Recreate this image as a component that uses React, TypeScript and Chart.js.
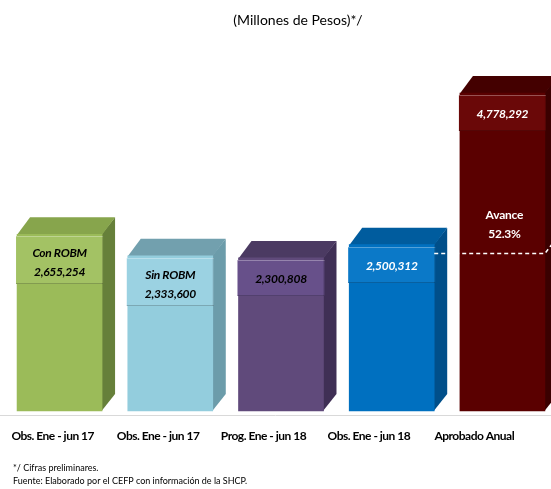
import React, { useEffect, useRef } from "react";
import { Chart, registerables } from "chart.js";

Chart.register(...registerables);

// ---- data ----
const categories = [
  "Obs. Ene - jun 17",
  "Obs. Ene - jun 17",
  "Prog. Ene - jun 18",
  "Obs. Ene - jun 18",
  "Aprobado Anual",
];
const values = [2655254, 2333600, 2300808, 2500312, 4778292];
const barNotes = ["Con ROBM", "Sin ROBM", "", "", ""];
const titleText = "(Millones de Pesos)*/";
const footnotes = [
  "*/ Cifras preliminares.",
  "Fuente: Elaborado por el CEFP con información de la SHCP.",
];
const avanceLabel = "Avance";

// ---- styles ----
const frontColors = ["#9BBB59", "#93CDDD", "#604A7B", "#0070C0", "#5A0000"];
const sideColors = ["#66803A", "#6C9CAA", "#3F2F55", "#004F8A", "#3A0000"];
const topColors = ["#87A54C", "#72A0AE", "#4B3A62", "#005C9E", "#440000"];
const boxColors = ["#A3C264", "#9BD2E2", "#67508A", "#0B79C8", "#6A0808"];
const textColors = ["#000000", "#000000", "#000000", "#FFFFFF", "#FFFFFF"];
const FONT = "Lato, 'Open Sans', sans-serif";
const DX = 13;
const DY = 17;

const bar3d = {
  id: "bar3d",
  beforeDraw(chart: any) {
    chart.ctx.letterSpacing = "-0.5px";
  },
  beforeDatasetsDraw(chart: any) {
    const ctx = chart.ctx;
    ctx.letterSpacing = "0px";
    const meta = chart.getDatasetMeta(0);
    const yScale = chart.scales.y;
    ctx.save();
    const by = Math.round(yScale.bottom) + 0.5;
    ctx.strokeStyle = "#D9D9D9";
    ctx.lineWidth = 1;
    ctx.beginPath();
    ctx.moveTo(0, by);
    ctx.lineTo(chart.width, by);
    ctx.stroke();
    meta.data.forEach((bar: any, i: number) => {
      const { x, y, base, width } = bar.getProps(["x", "y", "base", "width"], true);
      const l = x - width / 2;
      const r = x + width / 2;
      ctx.fillStyle = sideColors[i];
      ctx.beginPath();
      ctx.moveTo(r - 0.5, y);
      ctx.lineTo(r + DX, y - DY);
      ctx.lineTo(r + DX, base - DY);
      ctx.lineTo(r - 0.5, base);
      ctx.closePath();
      ctx.fill();
      ctx.fillStyle = topColors[i];
      ctx.beginPath();
      ctx.moveTo(l, y + 0.5);
      ctx.lineTo(l + DX, y - DY);
      ctx.lineTo(r + DX, y - DY);
      ctx.lineTo(r, y + 0.5);
      ctx.closePath();
      ctx.fill();
    });
    ctx.restore();
  },
  afterDatasetsDraw(chart: any) {
    const ctx = chart.ctx;
    const meta = chart.getDatasetMeta(0);
    const yScale = chart.scales.y;
    ctx.save();
    meta.data.forEach((bar: any, i: number) => {
      const { x, y, width } = bar.getProps(["x", "y", "width"], true);
      const l = x - width / 2;
      const r = x + width / 2;
      const two = barNotes[i] !== "";
      const top = Math.round(y) + 2;
      const h = two ? 48 : 36;
      ctx.fillStyle = boxColors[i];
      ctx.fillRect(l - 1, top, r - l + 2, h);
      ctx.lineWidth = 1;
      ctx.strokeStyle = "rgba(255,255,255,0.3)";
      ctx.beginPath();
      ctx.moveTo(l - 1, top + 0.5);
      ctx.lineTo(r + 1, top + 0.5);
      ctx.stroke();
      ctx.strokeStyle = "rgba(0,0,0,0.2)";
      ctx.beginPath();
      ctx.moveTo(l - 1, top + h - 0.5);
      ctx.lineTo(r + 1, top + h - 0.5);
      ctx.moveTo(r + 0.5, top);
      ctx.lineTo(r + 0.5, top + h);
      ctx.stroke();
      ctx.fillStyle = textColors[i];
      ctx.font = `italic bold 12px ${FONT}`;
      ctx.letterSpacing = "-0.3px";
      ctx.textAlign = "center";
      ctx.textBaseline = "middle";
      const label = values[i].toLocaleString("en-US");
      if (two) {
        ctx.fillText(barNotes[i], x, y + 19);
        ctx.fillText(label, x, y + 38);
      } else {
        ctx.fillText(label, x, y + 21);
      }
    });
    const last = values.length - 1;
    const pct = values[last - 1] / values[last];
    const b4 = meta.data[last - 1].getProps(["x", "width"], true);
    const b5 = meta.data[last].getProps(["x", "width"], true);
    const yd = Math.round(yScale.getPixelForValue(values[last] * pct) + DY / 2) + 0.5;
    const x4r = b4.x + b4.width / 2;
    const x5r = b5.x + b5.width / 2;
    ctx.strokeStyle = "#FFFFFF";
    ctx.lineWidth = 1.5;
    ctx.setLineDash([4, 3]);
    ctx.beginPath();
    ctx.moveTo(x4r, yd);
    ctx.lineTo(x5r, yd);
    ctx.lineTo(x5r + DX, yd - DY);
    ctx.stroke();
    ctx.setLineDash([]);
    ctx.fillStyle = "#FFFFFF";
    ctx.font = `bold 12px ${FONT}`;
    ctx.letterSpacing = "-0.2px";
    ctx.textAlign = "center";
    ctx.textBaseline = "middle";
    ctx.fillText(avanceLabel, b5.x + 2, yd - 38);
    ctx.fillText((pct * 100).toFixed(1) + "%", b5.x + 2, yd - 19);
    ctx.restore();
  },
  afterDraw(chart: any) {
    const ctx = chart.ctx;
    ctx.save();
    ctx.letterSpacing = "0px";
    ctx.fillStyle = "#000000";
    ctx.textBaseline = "middle";
    ctx.textAlign = "center";
    ctx.font = `14px ${FONT}`;
    ctx.fillText(titleText, 298, 20);
    ctx.textAlign = "left";
    ctx.font = `9px ${FONT}`;
    ctx.fillText(footnotes[0], 13, 468);
    ctx.fillText(footnotes[1], 13, 481);
    ctx.restore();
  },
};

export default function App() {
  const ref = useRef<HTMLCanvasElement>(null);
  useEffect(() => {
    if (!ref.current) return;
    const chart = new Chart(ref.current, {
      type: "bar",
      data: {
        labels: categories,
        datasets: [
          {
            data: values.map((v, i) => ({ x: i, y: v })) as any,
            xAxisID: "xb",
            yAxisID: "y",
            backgroundColor: frontColors,
            borderWidth: 0,
            barThickness: 85,
            clip: false as any,
          },
        ],
      },
      options: {
        responsive: true,
        maintainAspectRatio: false,
        animation: false,
        devicePixelRatio: 1,
        layout: { padding: { left: 0, right: 24, top: 65, bottom: 44 } },
        plugins: {
          legend: { display: false },
          tooltip: { enabled: false },
          title: { display: false },
        },
        scales: {
          x: {
            type: "category",
            position: "bottom",
            offset: true,
            grid: { display: false, drawTicks: true, tickLength: 11 },
            border: { display: false },
            afterFit: (scale: any) => {
              scale.height = 30;
            },
            ticks: {
              font: { family: FONT, size: 12, weight: "bold" },
              color: "#000000",
              padding: 3,
              maxRotation: 0,
              autoSkip: false,
            },
          },
          xb: {
            type: "linear",
            display: false,
            offset: false,
            min: -0.538,
            max: 4.222,
            grid: { offset: false },
          },
          y: { display: false, min: -60000, max: 5200000 },
        },
      },
      plugins: [bar3d],
    });
    return () => chart.destroy();
  }, []);
  return (
    <div style={{ position: "absolute", left: 0, top: 0, width: 551, height: 489 }}>
      <canvas ref={ref} />
    </div>
  );
}
